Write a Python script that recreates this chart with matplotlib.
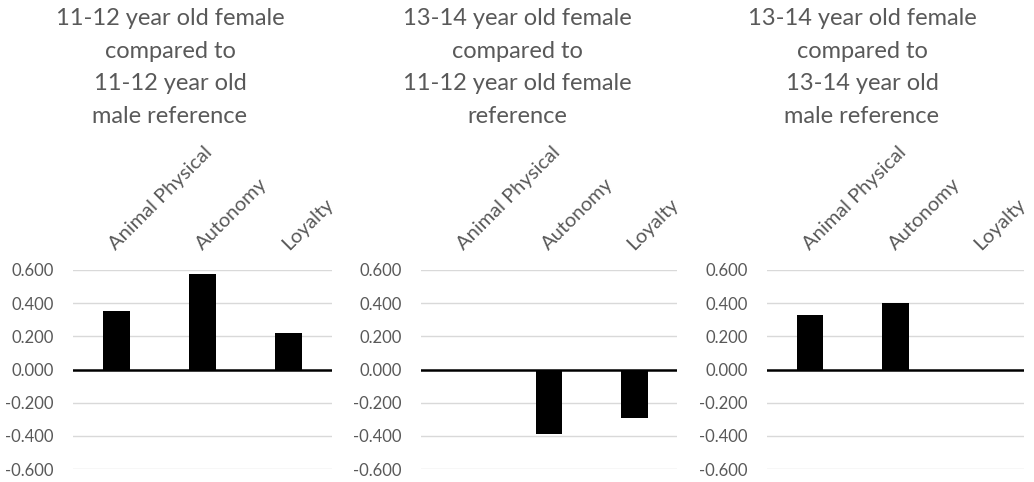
import matplotlib
matplotlib.use("Agg")
import matplotlib.pyplot as plt
import numpy as np

plt.rcParams['font.family'] = ['Lato', 'DejaVu Sans']

categories = ["Animal Physical", "Autonomy", "Loyalty"]
titles = [
    "11-12 year old female\ncompared to\n11-12 year old\nmale reference",
    "13-14 year old female\ncompared to\n11-12 year old female\nreference",
    "13-14 year old female\ncompared to\n13-14 year old\nmale reference",
]
values_panel1 = [0.350, 0.574, 0.220]
values_panel2 = [0.000, -0.386, -0.290]
values_panel3 = [0.328, 0.398, 0.000]
all_values = [values_panel1, values_panel2, values_panel3]
yticks = [-0.6, -0.4, -0.2, 0.0, 0.2, 0.4, 0.6]

W, H = 1034, 482
fig = plt.figure(figsize=(W / 100, H / 100), dpi=100)

# plot-area pixel boxes (left, right), shared top/bottom
xboxes = [(73, 332), (421, 677), (767, 1024)]
top_px, bot_px = 270, 469
title_centers = [170, 517, 862]

grid_color = "#d9d9d9"
text_color = "#595959"

for i, (vals, (xl, xr)) in enumerate(zip(all_values, xboxes)):
    ax = fig.add_axes([xl / W, 1 - bot_px / H, (xr - xl) / W, (bot_px - top_px) / H])
    x = np.arange(len(categories))
    ax.bar(x, vals, width=0.31, color="black", zorder=3)
    ax.set_xlim(-0.5, 2.5)
    ax.set_ylim(-0.6, 0.6)
    ax.set_yticks(yticks)
    ax.set_yticklabels([f"{v:.3f}" for v in yticks], color=text_color, fontsize=12)
    ax.tick_params(axis="y", length=0, pad=14)
    for yt in yticks:
        if yt != 0:
            ax.axhline(yt, color=grid_color, lw=1, zorder=1)
    ax.axhline(0, color="black", lw=1.8, zorder=4)
    for s in ax.spines.values():
        s.set_visible(False)
    ax.xaxis.tick_top()
    ax.set_xticks(x)
    ax.set_xticklabels(categories, rotation=45, ha="left", va="baseline",
                       rotation_mode="anchor", color=text_color, fontsize=14.5)
    ax.tick_params(axis="x", length=0, pad=14)
    ax.set_facecolor("none")
    for lbl in ax.get_xticklabels():
        lbl.set_clip_on(False)
    fig.text(title_centers[i] / W, 1 - 8 / H, titles[i], ha="center", va="top",
             fontsize=17, color=text_color, linespacing=1.68)

fig.savefig("out.png", dpi=100)
